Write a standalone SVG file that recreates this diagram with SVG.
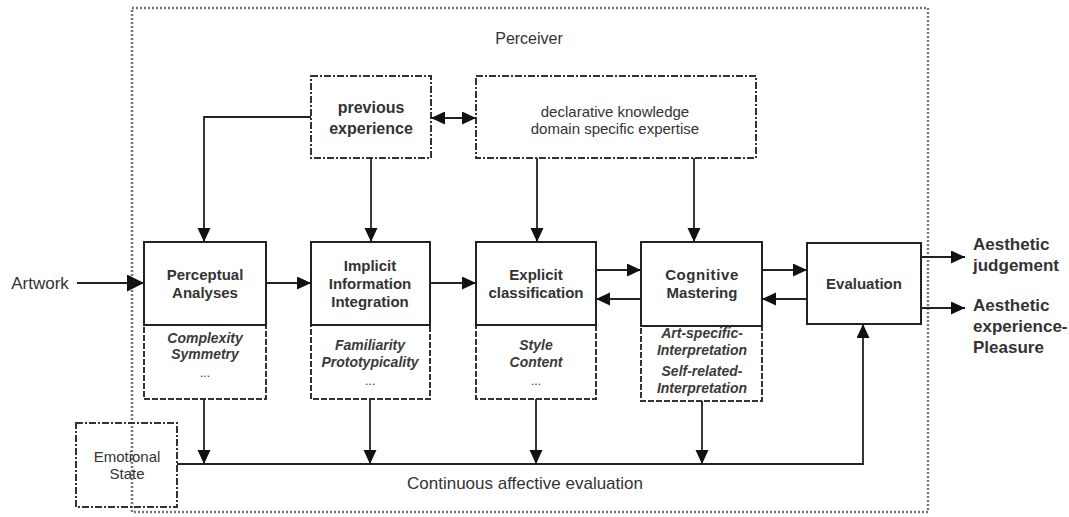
<svg xmlns="http://www.w3.org/2000/svg" width="1069" height="517" viewBox="0 0 1069 517">
<style>
.t{font-family:"Liberation Sans",Arial,sans-serif;fill:#333;text-anchor:middle}
.s{font-family:"Liberation Sans",Arial,sans-serif;fill:#333;text-anchor:start;font-weight:bold;font-size:17px}
.b{font-weight:bold;font-size:15px}
.bi{font-weight:bold;font-style:italic;font-size:14px;fill:#3a3a3a}
.r{font-size:15px}
.box{fill:#fff;stroke:#222;stroke-width:2}
.low{fill:#fff;stroke:#333;stroke-width:2;stroke-dasharray:6,2}
.dd{fill:#fff;stroke:#333;stroke-width:2;stroke-dasharray:7,2,2,2}
.ln{fill:none;stroke:#222;stroke-width:1.8}
</style>
<defs>
<marker id="ah" markerUnits="userSpaceOnUse" markerWidth="15" markerHeight="14" refX="14" refY="6.5" orient="auto">
<path d="M0,0 L14,6.5 L0,13 z" fill="#111"/>
</marker>
<marker id="ahs" markerUnits="userSpaceOnUse" markerWidth="15" markerHeight="14" refX="0" refY="6.5" orient="auto">
<path d="M14,0 L0,6.5 L14,13 z" fill="#111"/>
</marker>
<marker id="ahb" markerUnits="userSpaceOnUse" markerWidth="18" markerHeight="18" refX="17" refY="8.5" orient="auto">
<path d="M0,0 L17,8.5 L0,17 z" fill="#111"/>
</marker>
</defs>
<rect width="1069" height="517" fill="#fff"/>
<g id="perceiver">
<rect x="132" y="8" width="796" height="504" fill="none" stroke="#777" stroke-width="2.5" stroke-dasharray="2,2"/>
<text class="t" x="529" y="44" font-size="16">Perceiver</text>
</g>
<g id="previous-experience">
<rect class="dd" x="311" y="76" width="120" height="82"/>
<text class="t" x="371" y="113" font-weight="bold" font-size="16">previous</text>
<text class="t" x="371" y="134" font-weight="bold" font-size="16">experience</text>
</g>
<g id="declarative">
<rect class="dd" x="476" y="76" width="280" height="82"/>
<text class="t r" x="615" y="117">declarative knowledge</text>
<text class="t r" x="615" y="134">domain specific expertise</text>
</g>
<g id="perceptual">
<rect class="low" x="144" y="325" width="122" height="74"/>
<rect class="box" x="144" y="242" width="122" height="83"/>
<text class="t b" x="205" y="280">Perceptual</text>
<text class="t b" x="205" y="298">Analyses</text>
<text class="t bi" x="205" y="343">Complexity</text>
<text class="t bi" x="205" y="359">Symmetry</text>
<text class="t" x="205" y="377" font-size="12">...</text>
</g>
<g id="implicit">
<rect class="low" x="311" y="325" width="119" height="74"/>
<rect class="box" x="311" y="242" width="119" height="83"/>
<text class="t b" x="370" y="271">Implicit</text>
<text class="t b" x="370" y="289">Information</text>
<text class="t b" x="370" y="307">Integration</text>
<text class="t bi" x="370" y="350">Familiarity</text>
<text class="t bi" x="370" y="367">Prototypicality</text>
<text class="t" x="370" y="385" font-size="12">...</text>
</g>
<g id="explicit">
<rect class="low" x="476" y="325" width="120" height="74"/>
<rect class="box" x="476" y="242" width="120" height="83"/>
<text class="t b" x="536" y="280">Explicit</text>
<text class="t b" x="536" y="298">classification</text>
<text class="t bi" x="536" y="350">Style</text>
<text class="t bi" x="536" y="367">Content</text>
<text class="t" x="536" y="385" font-size="12">...</text>
</g>
<g id="cognitive">
<rect class="low" x="641" y="326" width="121" height="75"/>
<rect class="box" x="641" y="242" width="121" height="84"/>
<text class="t b" x="702" y="280" letter-spacing="0.6">Cognitive</text>
<text class="t b" x="702" y="298">Mastering</text>
<text class="t bi" x="702" y="338">Art-specific-</text>
<text class="t bi" x="702" y="355">Interpretation</text>
<text class="t bi" x="702" y="376">Self-related-</text>
<text class="t bi" x="702" y="393">Interpretation</text>
</g>
<g id="evaluation">
<rect class="box" x="807" y="243" width="114" height="81"/>
<text class="t b" x="864" y="289">Evaluation</text>
</g>
<g id="emotional-state">
<rect x="76" y="423" width="101" height="84" fill="none" stroke="#333" stroke-width="2" stroke-dasharray="7,2,2,2"/>
<text class="t r" x="127" y="462">Emotional</text>
<text class="t r" x="127" y="479">State</text>
</g>
<g id="artwork">
<text class="t" x="40" y="289" font-size="17">Artwork</text>
</g>
<g id="outputs">
<text class="s" x="973" y="250">Aesthetic</text>
<text class="s" x="973" y="271">judgement</text>
<text class="s" x="973" y="311">Aesthetic</text>
<text class="s" x="973" y="332">experience-</text>
<text class="s" x="973" y="353">Pleasure</text>
</g>
<g id="continuous">
<text class="t" x="525" y="489" font-size="17">Continuous affective evaluation</text>
</g>
<g id="connectors">
<path class="ln" d="M77,283 H144" marker-end="url(#ahb)"/>
<path class="ln" d="M311,117 H204 V242" marker-end="url(#ah)"/>
<path class="ln" d="M371,158 V242" marker-end="url(#ah)"/>
<path class="ln" d="M431,118 H476" marker-start="url(#ahs)" marker-end="url(#ah)"/>
<path class="ln" d="M537,158 V242" marker-end="url(#ah)"/>
<path class="ln" d="M694,158 V242" marker-end="url(#ah)"/>
<path class="ln" d="M266,283 H311" marker-end="url(#ah)"/>
<path class="ln" d="M430,283 H476" marker-end="url(#ah)"/>
<path class="ln" d="M596,270 H641" marker-end="url(#ah)"/>
<path class="ln" d="M641,299 H596" marker-end="url(#ah)"/>
<path class="ln" d="M762,270 H807" marker-end="url(#ah)"/>
<path class="ln" d="M807,299 H762" marker-end="url(#ah)"/>
<path class="ln" d="M921,257 H965" marker-end="url(#ah)"/>
<path class="ln" d="M921,308 H965" marker-end="url(#ah)"/>
<path class="ln" d="M204,399 V464" marker-end="url(#ah)"/>
<path class="ln" d="M370,399 V464" marker-end="url(#ah)"/>
<path class="ln" d="M536,399 V464" marker-end="url(#ah)"/>
<path class="ln" d="M702,401 V464" marker-end="url(#ah)"/>
<path class="ln" d="M177,464 H863 V324" marker-end="url(#ah)"/>
</g>
</svg>
